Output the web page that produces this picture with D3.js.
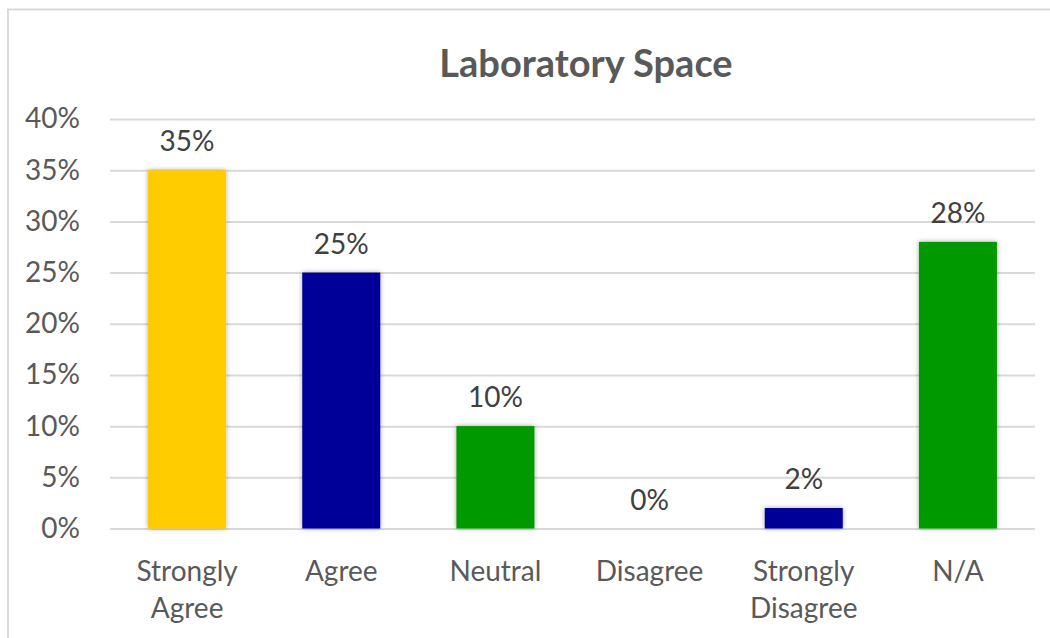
<!DOCTYPE html>
<html>
<head>
<meta charset="utf-8">
<script src="https://cdn.jsdelivr.net/npm/d3@7"></script>
<style>
  body { margin: 0; background: #fff; }
  #chart { width: 1050px; height: 638px; }
  .my-font { font-family: Lato, "Open Sans", sans-serif; }
</style>
</head>
<body>
<div id="chart"></div>
<script>
const categories = [["Strongly", "Agree"], ["Agree"], ["Neutral"], ["Disagree"], ["Strongly", "Disagree"], ["N/A"]];
const values = [0.35, 0.25, 0.10, 0.00, 0.02, 0.28];
const barColors = ["#FFCC00", "#000099", "#009900", "#009900", "#000099", "#009900"];
const yTicks = [0, 0.05, 0.10, 0.15, 0.20, 0.25, 0.30, 0.35, 0.40];

const drawChart = () => {
    const W = 1050, H = 638;
    const margin = { top: 119, right: 15, bottom: 109, left: 110 };
    const width = W - margin.left - margin.right;
    const height = H - margin.top - margin.bottom - 0.5;

    const svg0 = d3.select("#chart")
        .append("svg")
        .attr("class", "my-font")
        .attr("width", W)
        .attr("height", H);

    // outer frame (cropped on the right and bottom)
    svg0.append("path")
        .attr("d", `M8,${H} L8,9.5 L${W},9.5`)
        .attr("fill", "none")
        .attr("stroke", "#d9d9d9")
        .attr("stroke-width", 2);

    // drop shadow for bars
    const defs = svg0.append("defs");
    const f = defs.append("filter").attr("id", "shadow")
        .attr("x", "-20%").attr("y", "-20%").attr("width", "140%").attr("height", "140%");
    f.append("feDropShadow")
        .attr("dx", 0).attr("dy", 0)
        .attr("stdDeviation", 2.5)
        .attr("flood-color", "#000")
        .attr("flood-opacity", 0.35);

    // title
    svg0.append("text")
        .attr("x", 586)
        .attr("y", 77)
        .attr("text-anchor", "middle")
        .attr("font-size", "38px")
        .attr("font-weight", "bold")
        .attr("fill", "#595959")
        .text("Laboratory Space");

    const svg = svg0.append("g")
        .attr("transform", `translate(${margin.left},${margin.top})`);

    const x = d3.scaleBand()
        .domain(d3.range(categories.length))
        .range([0, width])
        .paddingInner(0.494)
        .paddingOuter(0.247);
    const y = d3.scaleLinear().domain([0, 0.4]).range([height, 0]);

    // gridlines
    svg.append("g")
        .attr("class", "grid")
        .call(d3.axisLeft(y).tickValues(yTicks).tickSize(-width).tickFormat(""))
        .call(g => g.select(".domain").remove())
        .call(g => g.selectAll("line").attr("stroke", "#d9d9d9").attr("stroke-width", 2));

    // y axis labels
    svg.append("g")
        .call(d3.axisLeft(y).tickValues(yTicks).tickSize(0).tickPadding(30).tickFormat(d3.format(".0%")))
        .call(g => g.select(".domain").remove())
        .call(g => g.selectAll("text")
            .attr("class", "my-font")
            .attr("font-size", "28px")
            .attr("fill", "#595959"));

    // bars
    svg.selectAll(".bar")
        .data(values)
        .join("rect")
        .attr("class", "bar")
        .attr("x", (d, i) => x(i))
        .attr("y", d => y(d))
        .attr("width", x.bandwidth())
        .attr("height", d => height - y(d))
        .attr("fill", (d, i) => barColors[i])
        .attr("filter", d => d > 0 ? "url(#shadow)" : null);

    // value labels
    svg.selectAll(".val")
        .data(values)
        .join("text")
        .attr("class", "val")
        .attr("x", (d, i) => x(i) + x.bandwidth() / 2)
        .attr("y", d => y(d) - 19)
        .attr("text-anchor", "middle")
        .attr("font-size", "28px")
        .attr("fill", "#404040")
        .text(d => d3.format(".0%")(d));

    // category labels
    const cat = svg.selectAll(".cat")
        .data(categories)
        .join("text")
        .attr("class", "cat")
        .attr("text-anchor", "middle")
        .attr("font-size", "28px")
        .attr("fill", "#595959")
        .attr("transform", (d, i) => `translate(${x(i) + x.bandwidth() / 2},${height + 52})`);
    cat.selectAll("tspan")
        .data(d => d)
        .join("tspan")
        .attr("x", 0)
        .attr("y", (d, i) => i * 37)
        .text(d => d);
};

document.addEventListener("DOMContentLoaded", drawChart);
</script>
</body>
</html>
